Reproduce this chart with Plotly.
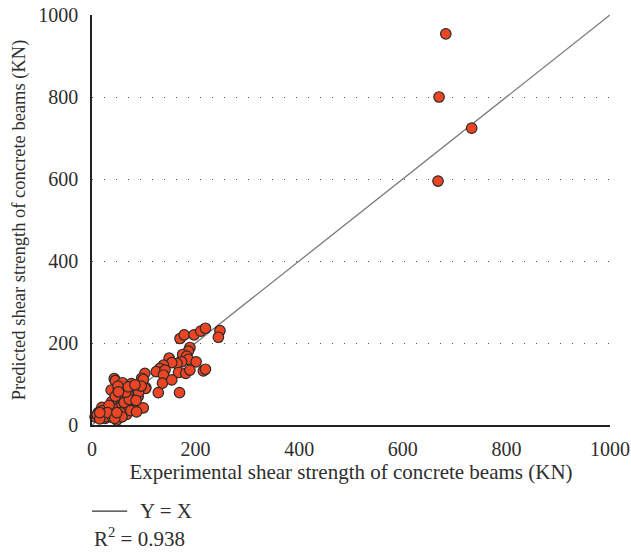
import plotly.graph_objects as go

# Experimental (x) vs predicted (y) shear strength, KN
experimental = [
    683, 670, 733, 668,
    170, 178, 197, 210, 219, 247, 244, 189, 186, 175, 183, 186, 201, 173, 164, 149,
    154, 138, 131, 124, 141, 167, 181, 189, 215, 219, 138, 136, 154, 128, 169, 102,
    96, 104,
    43, 45, 59, 76, 37, 51, 67, 86, 83, 70, 89, 57, 48, 38, 77, 60, 80, 30, 19, 12,
    6, 25, 44, 64, 51, 70, 35, 48, 67, 99, 103, 99, 10, 20, 28, 40, 55, 62, 72, 90,
    95, 55, 45, 33, 58, 75, 85, 65, 50, 40, 15, 30, 44, 15, 48, 86, 51, 70, 83,
]
predicted = [
    954, 800, 724, 595,
    211, 220, 220, 229, 236, 230, 214, 189, 180, 172, 168, 160, 154, 154, 150, 163,
    152, 146, 138, 130, 134, 128, 126, 134, 132, 136, 122, 102, 110, 79, 79, 126,
    114, 91,
    113, 108, 103, 101, 85, 84, 89, 89, 73, 73, 69, 65, 61, 57, 57, 49, 46, 41, 43, 30,
    20, 16, 28, 32, 41, 41, 24, 12, 26, 42, 89, 111, 25, 35, 20, 40, 30, 55, 62, 80,
    95, 78, 70, 48, 20, 35, 60, 80, 95, 18, 15, 30, 16, 30, 30, 32, 81, 93, 98,
]

line_x = [0, 1000]
line_y = [0, 1000]
x_ticks = [0, 200, 400, 600, 800, 1000]
y_ticks = [0, 200, 400, 600, 800, 1000]
r2_text = "R<sup>2</sup> = 0.938"
line_label = "Y = X"

FONT = "Liberation Serif"
TXT = "#2e2e2e"

fig = go.Figure()
fig.add_trace(go.Scatter(
    x=line_x, y=line_y, mode="lines",
    line=dict(color="#7a7a7a", width=1.3),
    showlegend=False, hoverinfo="skip",
))
fig.add_trace(go.Scatter(
    x=experimental, y=predicted, mode="markers",
    marker=dict(size=10.5, color="#EC4524", line=dict(color="#2a2a2a", width=1.2)),
    cliponaxis=False, showlegend=False,
))

# Legend-like annotation below the chart
fig.add_shape(type="line", xref="paper", yref="paper",
              x0=0.0, x1=0.068, y0=-0.21, y1=-0.21,
              line=dict(color="#333333", width=1.2))
fig.add_annotation(xref="paper", yref="paper", x=0.088, y=-0.21,
                   text=line_label, showarrow=False, xanchor="left", yanchor="middle",
                   font=dict(family=FONT, size=21, color=TXT))
fig.add_annotation(xref="paper", yref="paper", x=0.0, y=-0.275,
                   text=r2_text, showarrow=False, xanchor="left", yanchor="middle",
                   font=dict(family=FONT, size=21, color=TXT))

fig.update_layout(
    width=631, height=553,
    margin=dict(l=92, r=21, t=15, b=128),
    plot_bgcolor="white", paper_bgcolor="white",
    font=dict(family=FONT, size=20, color=TXT),
)
fig.update_xaxes(
    range=[0, 1000], tickvals=x_ticks, showgrid=False, zeroline=False,
    showline=True, linecolor="#222222", linewidth=1.5, automargin=False,
    ticks="outside", ticklen=5, tickcolor="rgba(0,0,0,0)",
    tickfont=dict(family=FONT, size=20, color=TXT),
    title=dict(text="Experimental shear strength of concrete beams (KN)",
               font=dict(family=FONT, size=21, color=TXT), standoff=3),
)
fig.update_yaxes(
    range=[0, 1000], tickvals=y_ticks, zeroline=False,
    showgrid=True, gridcolor="#555555", gridwidth=1.3, griddash="1px,11px",
    showline=True, linecolor="#222222", linewidth=1.5, automargin=False,
    ticks="outside", ticklen=8, tickcolor="rgba(0,0,0,0)",
    tickfont=dict(family=FONT, size=20, color=TXT),
    title=dict(text="Predicted shear strength of concrete beams (KN)",
               font=dict(family=FONT, size=18.5, color=TXT), standoff=8),
)

fig.write_html("out.html")
